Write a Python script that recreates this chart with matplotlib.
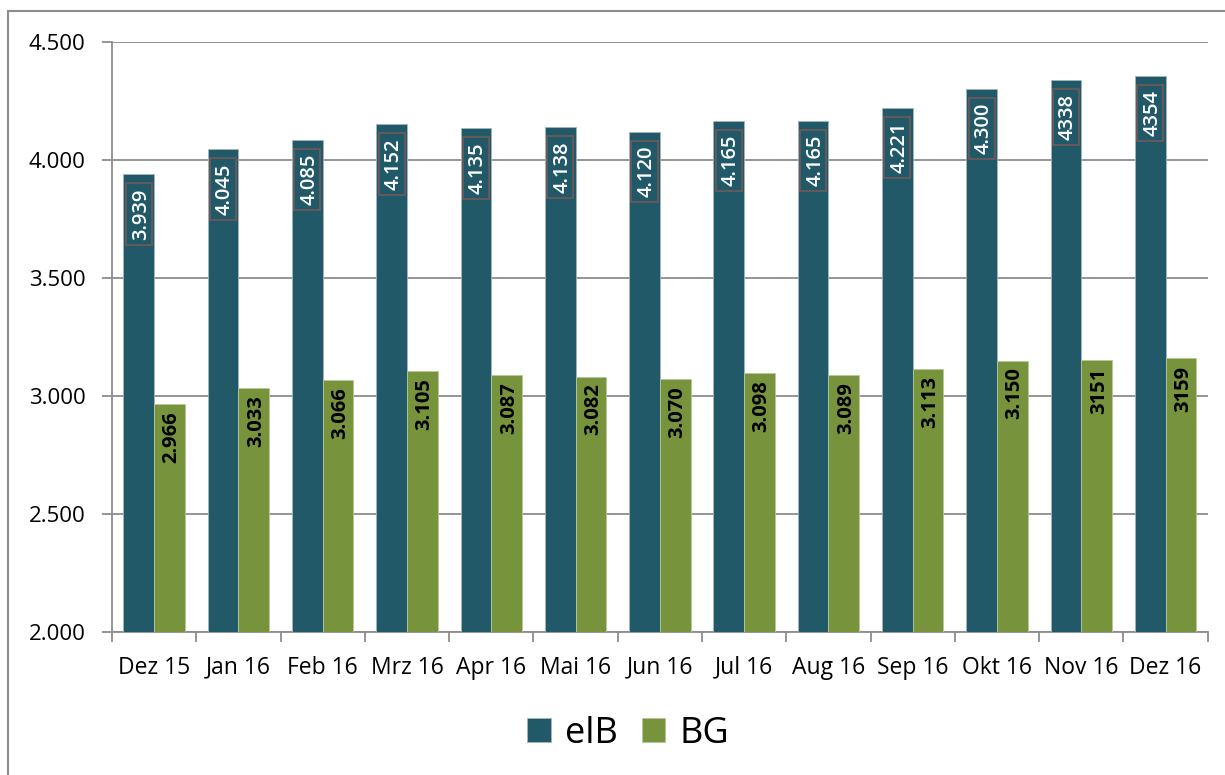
"""elB vs BG monthly counts, Dez 15 - Dez 16."""

import matplotlib
matplotlib.use("Agg")
import matplotlib.pyplot as plt
import numpy as np
from matplotlib.patches import Rectangle
from matplotlib.ticker import FuncFormatter

months = ["Dez 15", "Jan 16", "Feb 16", "Mrz 16", "Apr 16", "Mai 16", "Jun 16",
          "Jul 16", "Aug 16", "Sep 16", "Okt 16", "Nov 16", "Dez 16"]
elb = [3939, 4045, 4085, 4152, 4135, 4138, 4120, 4165, 4165, 4221, 4300, 4338, 4354]
bg = [2966, 3033, 3066, 3105, 3087, 3082, 3070, 3098, 3089, 3113, 3150, 3151, 3159]
elb_labels = ["3.939", "4.045", "4.085", "4.152", "4.135", "4.138", "4.120",
              "4.165", "4.165", "4.221", "4.300", "4338", "4354"]
bg_labels = ["2.966", "3.033", "3.066", "3.105", "3.087", "3.082", "3.070",
             "3.098", "3.089", "3.113", "3.150", "3151", "3159"]

C_ELB = "#215968"
C_BG = "#77933C"
GRID = "#8c8c8c"

plt.rcParams["font.family"] = ["Open Sans", "DejaVu Sans"]

fig = plt.figure(figsize=(12.25, 7.75), dpi=100)
ax = fig.add_axes([0.0914, 0.1845, 0.8945, 0.7613])

x = np.arange(len(months))
w = 0.365
b1 = ax.bar(x - w / 2, elb, w, color=C_ELB, edgecolor="#9fb6bc", linewidth=0.6,
            label="elB", zorder=3)
b2 = ax.bar(x + w / 2, bg, w, color=C_BG, edgecolor="#b6c79a", linewidth=0.6,
            label="BG", zorder=3)

# rotated labels: nudge right a bit so the digits sit centred in the bar
elb_texts = []
for xi, v, s in zip(x, elb, elb_labels):
    t = ax.annotate(s, (xi - w / 2, v), xytext=(1.5, -10), textcoords="offset points",
                    rotation=90, ha="center", va="top", color="white", fontsize=14.5,
                    fontweight="semibold", zorder=4)
    elb_texts.append((xi - w / 2, t))
for xi, v, s in zip(x, bg, bg_labels):
    ax.annotate(s, (xi + w / 2, v), xytext=(1.5, -5), textcoords="offset points",
                rotation=90, ha="center", va="top", color="black", fontsize=14.5,
                fontweight="bold", zorder=4)

ax.set_ylim(2000, 4500)
ax.set_xlim(-0.5, len(months) - 0.5)
ax.set_yticks(np.arange(2000, 4501, 500))
ax.yaxis.set_major_formatter(FuncFormatter(lambda v, _: f"{int(v):,}".replace(",", ".")))
ax.yaxis.grid(True, color=GRID, linewidth=1.3, zorder=0)
ax.set_axisbelow(True)

ax.set_xticks(x, months)
ax.set_xticks(np.arange(-0.5, len(months)), minor=True)
ax.tick_params(axis="x", which="major", length=0, pad=17, labelsize=16.5)
ax.tick_params(axis="x", which="minor", length=7, width=1.3, color=GRID)
ax.tick_params(axis="y", length=7, width=1.3, color=GRID, labelsize=16, pad=12)

for side in ("top", "right"):
    ax.spines[side].set_visible(False)
for side in ("left", "bottom"):
    ax.spines[side].set_color(GRID)
    ax.spines[side].set_linewidth(1.3)

# boxes around the elB labels, narrower than the bar
fig.canvas.draw()
inv = ax.transData.inverted()
for xc, t in elb_texts:
    bb = t.get_window_extent()
    (_, y0), (_, y1) = inv.transform([(bb.x0, bb.y0 - 5), (bb.x0, bb.y1 + 5)])
    ax.add_patch(Rectangle((xc - 0.155, y0), 0.31, y1 - y0, fill=False,
                           ec="#6b5a5a", lw=1.3, zorder=4))

fig.legend(handles=[b1, b2], loc="center", bbox_to_anchor=(0.513, 0.053), ncol=2,
           frameon=False, fontsize=26, handlelength=0.65, handleheight=0.65,
           handletextpad=0.4, columnspacing=0.65)

fig.patches.append(Rectangle((8 / 1225, -0.01), 1.02, 1 - 11 / 775 + 0.01,
                             transform=fig.transFigure, fill=False, ec="#8c8c8c",
                             lw=1.5, clip_on=False))

fig.savefig("out.png", dpi=100)
